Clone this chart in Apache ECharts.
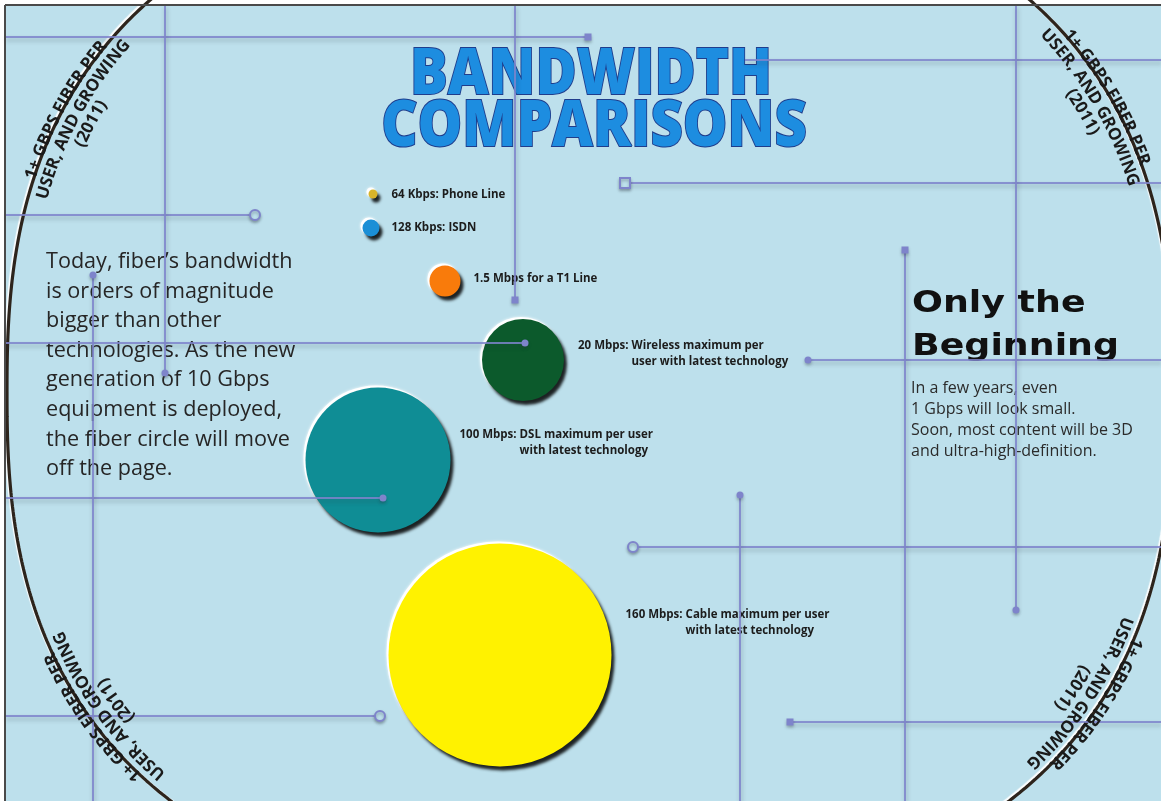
<!DOCTYPE html>
<html>
<head>
<meta charset="utf-8">
<title>Bandwidth Comparisons</title>
<script src="https://cdn.jsdelivr.net/npm/echarts@6/dist/echarts.min.js"></script>
<style>
  html, body { margin: 0; padding: 0; background: #ffffff; }
  #chart { width: 1161px; height: 801px; }
</style>
</head>
<body>
<div id="chart"></div>
<script>
// ---- Data: access technologies and their bandwidth (Kbps) ----
const technologies = ['Phone Line', 'ISDN', 'T1 Line', 'Wireless', 'DSL', 'Cable'];
const bandwidthKbps = [64, 128, 1500, 20000, 100000, 160000];
const labelLine1 = [
  '64 Kbps: Phone Line',
  '128 Kbps: ISDN',
  '1.5 Mbps for a T1 Line',
  '20 Mbps: Wireless maximum per',
  '100 Mbps: DSL maximum per user',
  '160 Mbps: Cable maximum per user'
];
const labelLine2 = ['', '', '', 'user with latest technology', 'with latest technology', 'with latest technology'];
const labelLead = ['', '', '', '20 Mbps: ', '100 Mbps: ', '160 Mbps: '];   // hanging indent width for line 2

// ---- Layout of the bubbles on the page (pixel space of the hidden axes) ----
const bubbleX = [373, 371, 445, 523, 378, 500];
const bubbleY = [194, 228, 281, 360, 460, 655];
const bubbleSize = [9, 17, 31, 82, 145, 223];
const labelShift = [[14, 1], [12, 0], [13, -2], [14, -6], [9, -17], [14, -32]];
const bubbleColors = ['#d8b42a', '#1b8fd6', '#f97b0b', '#0c5a2c', '#0f8d95', '#fff200'];

// ---- Decorative circuit lines and their end markers ----
const circuitLines = [
  [[5, 37], [588, 37]], [[745, 60], [1161, 60]], [[625, 183], [1161, 183]],
  [[5, 215], [255, 215]], [[5, 343], [525, 343]], [[808, 360], [1161, 360]],
  [[5, 498], [383, 498]], [[633, 547], [1161, 547]], [[5, 716], [380, 716]],
  [[790, 722], [1161, 722]],
  [[165, 5], [165, 373]], [[93, 275], [93, 801]], [[515, 5], [515, 300]],
  [[905, 250], [905, 801]], [[1016, 5], [1016, 610]], [[740, 495], [740, 801]]
];
const circuitEnds = [
  [588, 37, 'square'], [625, 183, 'hollowSquare'], [255, 215, 'ring'], [525, 343, 'dot'],
  [808, 360, 'dot'], [383, 498, 'dot'], [633, 547, 'ring'], [380, 716, 'ring'],
  [790, 722, 'square'], [165, 373, 'dot'], [93, 275, 'dot'], [515, 300, 'square'],
  [905, 250, 'square'], [1016, 610, 'dot'], [740, 495, 'dot']
];

// ---- Text blocks ----
const titleLines = ['BANDWIDTH', 'COMPARISONS'];
const introText = [
  'Today, fiber\u2019s bandwidth',
  'is orders of magnitude',
  'bigger than other',
  'technologies. As the new',
  'generation of 10 Gbps',
  'equipment is deployed,',
  'the fiber circle will move',
  'off the page.'
];
const outlookHeading = ['Only the', 'Beginning'];
const outlookText = [
  'In a few years, even',
  '1 Gbps will look small.',
  'Soon, most content will be 3D',
  'and ultra-high-definition.'
];
const fiberCaption = ['1+ GBPS FIBER PER', 'USER, AND GROWING', '(2011)'];
const captionAnchors = [[67, 110], [1112, 94], [1104, 708], [90, 718]];

// ---- Helpers ----
const BG = '#bde0ec';
const LINE = '#7e84cb';
const W = 1161, H = 801;
const measureCtx = document.createElement('canvas').getContext('2d');
function textWidth(str, font) { measureCtx.font = font; return measureCtx.measureText(str).width; }

// Fiber ring: a rounded (super-elliptic) outline traced clockwise
const ringCx = 590, ringCy = 392, ringRx = 583, ringRy = 515, ringExp = 2.5;
const RN = 1440;
const ring = [];
for (let i = 0; i < RN; i++) {
  const t = -Math.PI + (2 * Math.PI * i) / RN;
  const c = Math.cos(t), s = Math.sin(t);
  ring.push([
    ringCx + ringRx * Math.sign(c) * Math.pow(Math.abs(c), 2 / ringExp),
    ringCy + ringRy * Math.sign(s) * Math.pow(Math.abs(s), 2 / ringExp)
  ]);
}
const inward = ring.map((p, i) => {
  const a = ring[(i - 1 + RN) % RN], b = ring[(i + 1) % RN];
  const th = Math.atan2(b[1] - a[1], b[0] - a[0]);
  return [-Math.sin(th), Math.cos(th)];
});

// Caption letters laid along the ring, reading clockwise, tops facing outward
const captionFont = 'bold 17px "Open Sans"';
const captionOffsets = [-3, 14, 31];
const captionGraphics = [];
captionAnchors.forEach(anchor => {
  let best = 0, bd = Infinity;
  ring.forEach((p, i) => {
    const d = (p[0] - anchor[0]) ** 2 + (p[1] - anchor[1]) ** 2;
    if (d < bd) { bd = d; best = i; }
  });
  fiberCaption.forEach((txt, li) => {
    const off = captionOffsets[li];
    const K = 260;
    const pts = [];
    for (let k = -K; k <= K; k++) {
      const i = (best + k + RN) % RN;
      pts.push([ring[i][0] + off * inward[i][0], ring[i][1] + off * inward[i][1]]);
    }
    const cum = [0];
    for (let k = 1; k < pts.length; k++) {
      cum.push(cum[k - 1] + Math.hypot(pts[k][0] - pts[k - 1][0], pts[k][1] - pts[k - 1][1]));
    }
    const s0 = cum[K] - textWidth(txt, captionFont) / 2;
    for (let c = 0; c < txt.length; c++) {
      const ch = txt[c];
      if (ch === ' ') continue;
      const a = textWidth(txt.slice(0, c), captionFont);
      const b = textWidth(txt.slice(0, c + 1), captionFont);
      const s = s0 + (a + b) / 2;
      let j = 0;
      while (j < cum.length - 2 && cum[j + 1] < s) j++;
      const seg = cum[j + 1] - cum[j] || 1;
      const f = (s - cum[j]) / seg;
      const x = pts[j][0] + f * (pts[j + 1][0] - pts[j][0]);
      const y = pts[j][1] + f * (pts[j + 1][1] - pts[j][1]);
      const th = Math.atan2(pts[j + 1][1] - pts[j][1], pts[j + 1][0] - pts[j][0]);
      captionGraphics.push({
        type: 'text', x: x, y: y, rotation: -th, z: 10, silent: true,
        style: {
          text: ch, font: captionFont, fill: '#1a1a1a',
          align: 'center', verticalAlign: 'middle', textAlign: 'center', textVerticalAlign: 'middle'
        }
      });
    }
  });
});

// Title, narrowed to the poster's condensed lettering
const titleFont = '800 64px "Open Sans"';
const titleScale = 362 / textWidth(titleLines[0], titleFont);
const titleGraphics = titleLines.map((t, i) => ({
  type: 'text', x: [591, 594][i], y: [76, 128][i], scaleX: titleScale, z: 1, silent: true,
  style: {
    text: t, font: titleFont, fill: '#1d8de0', stroke: '#1f3d8c', lineWidth: 2,
    align: 'center', verticalAlign: 'middle', textAlign: 'center', textVerticalAlign: 'middle'
  }
}));

const headingFont = 'bold 30px "DejaVu Sans"';
const headingScale = 207 / textWidth(outlookHeading[1], headingFont);
const headingGraphics = outlookHeading.map((t, i) => ({
  type: 'text', x: 912, y: [304, 347][i], scaleX: headingScale, z: 1, silent: true,
  style: {
    text: t, font: headingFont, fill: '#111111',
    align: 'left', verticalAlign: 'middle', textAlign: 'left', textVerticalAlign: 'middle'
  }
}));

// Bubble labels with a hanging indent on the second line
const labelFont = 'bold 11.5px "Open Sans"';
const bubbleData = technologies.map((name, i) => {
  const indent = labelLead[i] ? textWidth(labelLead[i], labelFont) : 0;
  return {
    name: name,
    value: [bubbleX[i], bubbleY[i], bandwidthKbps[i]],
    symbolSize: bubbleSize[i],
    itemStyle: { color: bubbleColors[i] },
    label: {
      offset: labelShift[i],
      formatter: labelLine2[i] ? '{a|' + labelLine1[i] + '}\n{b|' + labelLine2[i] + '}' : '{a|' + labelLine1[i] + '}',
      rich: {
        a: { fontFamily: 'Open Sans', fontWeight: 'bold', fontSize: 11.5, color: '#1c1c1c', lineHeight: 16 },
        b: { fontFamily: 'Open Sans', fontWeight: 'bold', fontSize: 11.5, color: '#1c1c1c', lineHeight: 16, padding: [0, 0, 0, indent] }
      }
    }
  };
});

const endStyle = {
  dot: { symbol: 'circle', size: 7, fill: LINE, border: 0 },
  ring: { symbol: 'circle', size: 10, fill: BG, border: 2 },
  square: { symbol: 'rect', size: 7, fill: LINE, border: 0 },
  hollowSquare: { symbol: 'rect', size: 10, fill: BG, border: 2 }
};

const option = {
  animation: false,
  backgroundColor: '#ffffff',
  grid: { left: 0, right: 0, top: 0, bottom: 0 },
  xAxis: { type: 'value', min: 0, max: W, show: false },
  yAxis: { type: 'value', min: 0, max: H, inverse: true, show: false },
  graphic: { elements: [
    { type: 'rect', shape: { x: 5, y: 5, width: W - 5, height: H - 5 }, style: { fill: BG }, z: -10, silent: true },
    { type: 'text', x: 46, y: 247, z: 1, silent: true,
      style: { text: introText.join('\n'), font: '21.6px "Open Sans"', fill: '#262626', lineHeight: 29.6,
               align: 'left', verticalAlign: 'top', textAlign: 'left', textVerticalAlign: 'top' } },
    { type: 'text', x: 911, y: 377.5, z: 1, silent: true,
      style: { text: outlookText.join('\n'), font: '16px "Open Sans"', fill: '#2b2b2b', lineHeight: 21,
               align: 'left', verticalAlign: 'top', textAlign: 'left', textVerticalAlign: 'top' } },
    ...titleGraphics,
    ...headingGraphics,
    ...captionGraphics,
    { type: 'line', shape: { x1: 5, y1: 5, x2: W, y2: 5 }, style: { stroke: '#4a4a4a', lineWidth: 2 }, z: 20, silent: true },
    { type: 'line', shape: { x1: 5, y1: 5, x2: 5, y2: H }, style: { stroke: '#4a4a4a', lineWidth: 2 }, z: 20, silent: true }
  ] },
  series: [
    {
      // white glint on the upper-left rim of each bubble
      type: 'scatter', z: 2, silent: true,
      symbolOffset: [-2, -2],
      data: bubbleData.map(d => ({ value: d.value, symbolSize: d.symbolSize })),
      itemStyle: { color: '#ffffff', opacity: 1, shadowBlur: 3, shadowColor: 'rgba(255,255,255,0.9)' }
    },
    {
      type: 'scatter', z: 3, silent: true,
      data: bubbleData,
      itemStyle: { opacity: 1, shadowBlur: 3, shadowOffsetX: 3, shadowOffsetY: 4, shadowColor: 'rgba(0,0,0,0.85)' },
      label: { show: true, position: 'right', distance: 0, align: 'left' }
    },
    {
      // the 1+ Gbps fiber ring
      type: 'line', z: 4, silent: true, showSymbol: false, symbol: 'none',
      data: ring.concat([ring[0]]),
      lineStyle: { color: '#2d241c', width: 3.2, shadowColor: 'rgba(255,255,255,0.95)', shadowBlur: 1, shadowOffsetX: -1.5, shadowOffsetY: -1.5 }
    },
    {
      type: 'lines', coordinateSystem: 'cartesian2d', z: 5, silent: true,
      data: circuitLines.map(c => ({ coords: c })),
      lineStyle: { color: LINE, width: 2, opacity: 0.85, shadowColor: 'rgba(40,50,60,0.35)', shadowBlur: 4, shadowOffsetY: 3, shadowOffsetX: 1 }
    },
    {
      type: 'scatter', z: 6, silent: true,
      data: circuitEnds.map(e => {
        const st = endStyle[e[2]];
        return {
          value: [e[0], e[1]], symbol: st.symbol, symbolSize: st.size,
          itemStyle: { color: st.fill, borderColor: LINE, borderWidth: st.border, opacity: 1,
                       shadowColor: 'rgba(40,50,60,0.35)', shadowBlur: 3, shadowOffsetY: 2 }
        };
      })
    }
  ]
};

const chart = echarts.init(document.getElementById('chart'));
chart.setOption(option);
</script>
</body>
</html>
